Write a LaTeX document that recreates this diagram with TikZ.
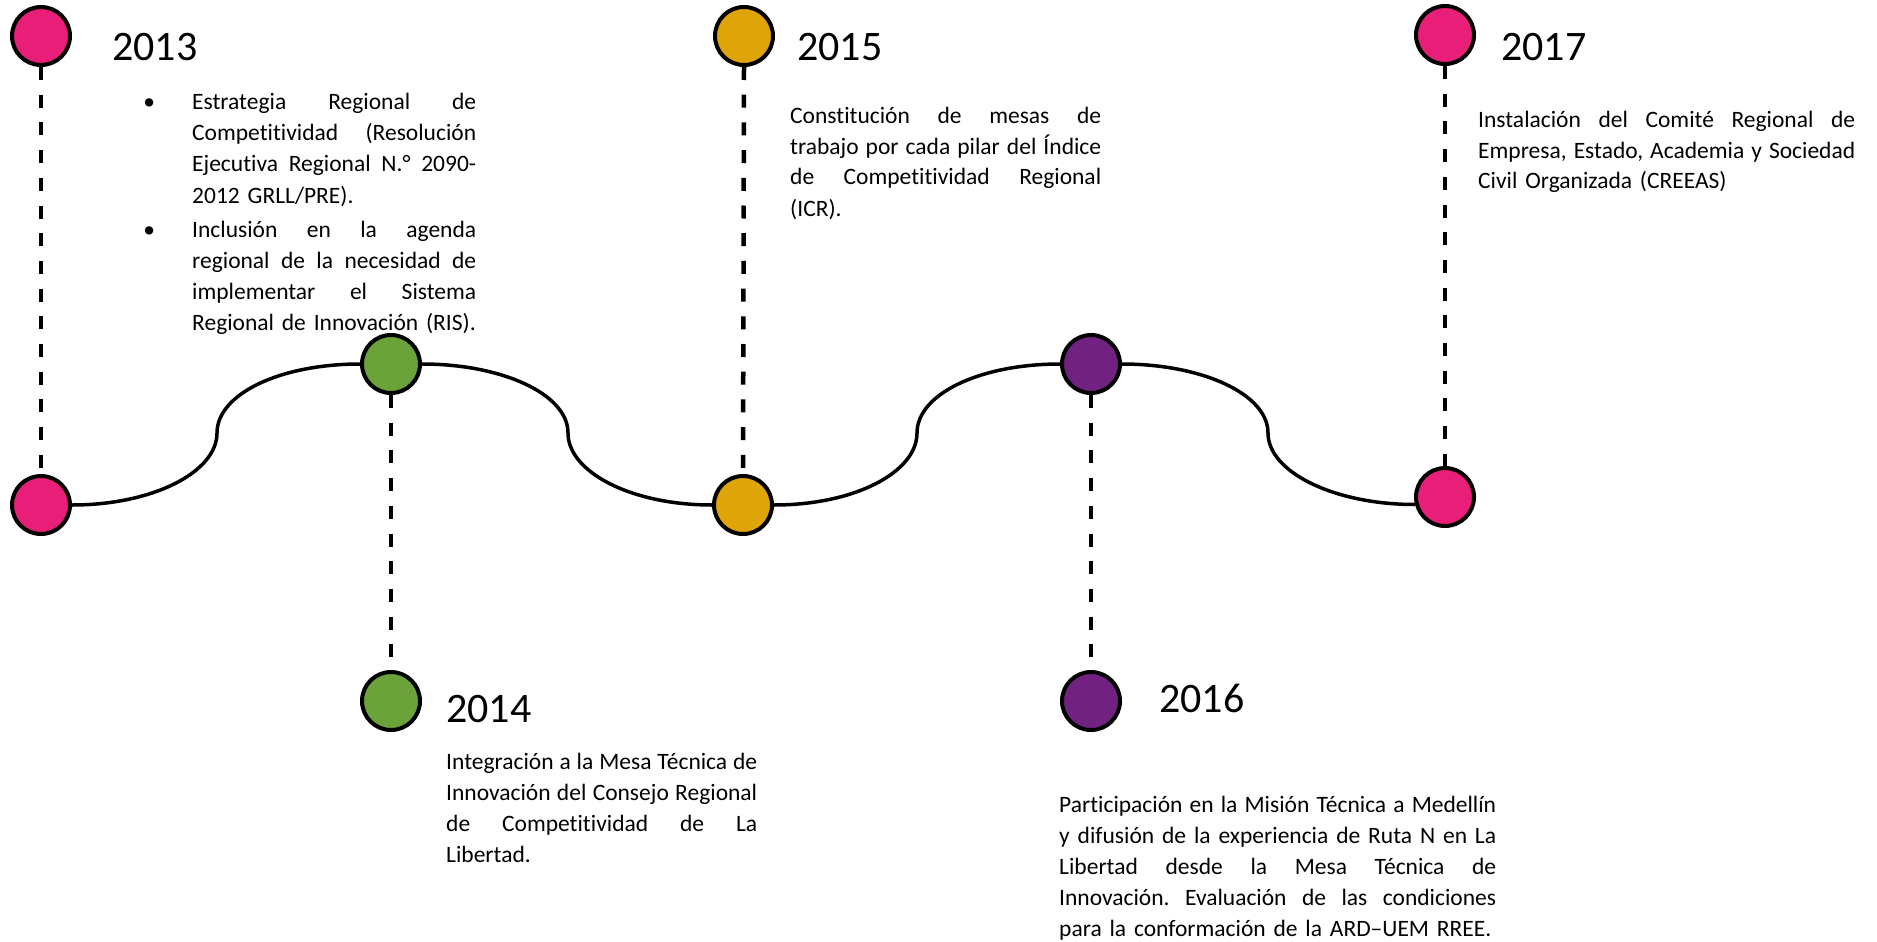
\documentclass[tikz,border=0pt]{standalone}
\usepackage{fontspec}
\setmainfont{Carlito}[Ligatures={TeX,NoCommon},Contextuals=NoAlternate]
\definecolor{cpink}{RGB}{232,30,121}
\definecolor{cgold}{RGB}{222,164,8}
\definecolor{cgreen}{RGB}{107,163,58}
\definecolor{cpurple}{RGB}{113,34,128}
\frenchspacing
\newcommand{\jl}[2]{\leavevmode\hbox to #1{\spaceskip=\fontdimen2\font plus 1fil\relax #2}}
\newcommand{\bul}{\leavevmode\llap{\textbullet\hspace{37pt}}}
\begin{document}
\begin{tikzpicture}[x=1pt,y=-1pt,
  dot/.style={circle, draw=black, line width=4pt, minimum size=58pt, inner sep=0pt},
  year/.style={anchor=base west, inner sep=0pt, font=\fontsize{42}{50}\selectfont},
  body/.style={anchor=base west, inner sep=0pt, align=left, font=\fontsize{23.5}{31}\selectfont},
  vline/.style={line width=4.5pt, dash pattern=on 13pt off 14.7pt},
  wave/.style={line width=3.5pt}]
\useasboundingbox (0,0) rectangle (1877,942);

% milestones
\node[dot, fill=cpink] (n13t) at (41,36) {};
\node[dot, fill=cpink] (n13b) at (41,505) {};
\node[dot, fill=cgreen] (n14t) at (391,364) {};
\node[dot, fill=cgreen] (n14b) at (391,701) {};
\node[dot, fill=cgold] (n15t) at (744,36) {};
\node[dot, fill=cgold] (n15b) at (743,505) {};
\node[dot, fill=cpurple] (n16t) at (1091,364) {};
\node[dot, fill=cpurple] (n16b) at (1091,701) {};
\node[dot, fill=cpink] (n17t) at (1445,35) {};
\node[dot, fill=cpink] (n17b) at (1445,497) {};

% dashed stems
\draw[vline] (n13t.south) -- (n13b.north);
\draw[vline] (n14t.south) -- (n14b.north);
\draw[vline] (n15t.south) -- (n15b.north);
\draw[vline] (n16t.south) -- (n16b.north);
\draw[vline] (n17t.south) -- (n17b.north);

% wave
\coordinate (i1) at (217,433);
\coordinate (i2) at (568,433);
\coordinate (i3) at (917,433);
\coordinate (i4) at (1268,433);
\draw[wave] (n13b.east) .. controls +(81,0) and +(0,39) .. (i1) .. controls +(0,-39) and +(-80,0) .. (n14t.west);
\draw[wave] (n14t.east) .. controls +(80,0) and +(0,-39) .. (i2) .. controls +(0,39) and +(-81,0) .. (n15b.west);
\draw[wave] (n15b.east) .. controls +(81,0) and +(0,39) .. (i3) .. controls +(0,-39) and +(-80,0) .. (n16t.west);
\draw[wave] (n16t.east) .. controls +(80,0) and +(0,-39) .. (i4) .. controls +(0,39) and +(-81,0) .. (n17b.194);

% years
\node[year] (y13) at (112,60) {2013};
\node[year] (y14) at (446,722) {2014};
\node[year] (y15) at (797,60) {2015};
\node[year] (y16) at (1159,712) {2016};
\node[year] (y17) at (1501,61) {2017};

% texts
\node[body, text width=284pt] (t13a) at (192,110) {\bul\jl{284pt}{Estrategia Regional de}\\\jl{284pt}{Competitividad (Resolución}\\\jl{284pt}{Ejecutiva Regional N.° 2090-}\\2012 GRLL/PRE).};
\node[body, text width=284pt] (t13b) at (192,237) {\bul\jl{284pt}{Inclusión en la agenda}\\\jl{284pt}{regional de la necesidad de}\\\jl{284pt}{implementar el Sistema}\\Regional de Innovación (RIS).};
\node[body, text width=311pt] (t15) at (790,123) {\jl{311pt}{Constitución de mesas de}\\\jl{311pt}{trabajo por cada pilar del Índice}\\\jl{311pt}{de Competitividad Regional}\\(ICR).};
\node[body, text width=377pt] (t17) at (1478,127) {\jl{377pt}{Instalación del Comité Regional de}\\\jl{377pt}{Empresa, Estado, Academia y Sociedad}\\Civil Organizada (CREEAS)};
\node[body, text width=311pt] (t14) at (446,769) {\jl{311pt}{Integración a la Mesa Técnica de}\\\jl{311pt}{Innovación del Consejo Regional}\\\jl{311pt}{de Competitividad de La}\\Libertad.};
\node[body, text width=437pt] (t16) at (1059,812) {\jl{437pt}{Participación en la Misión Técnica a Medellín}\\\jl{437pt}{y difusión de la experiencia de Ruta N en La}\\\jl{437pt}{Libertad desde la Mesa Técnica de}\\\jl{437pt}{Innovación. Evaluación de las condiciones}\\para la conformación de la ARD–UEM RREE.};
\end{tikzpicture}
\end{document}
